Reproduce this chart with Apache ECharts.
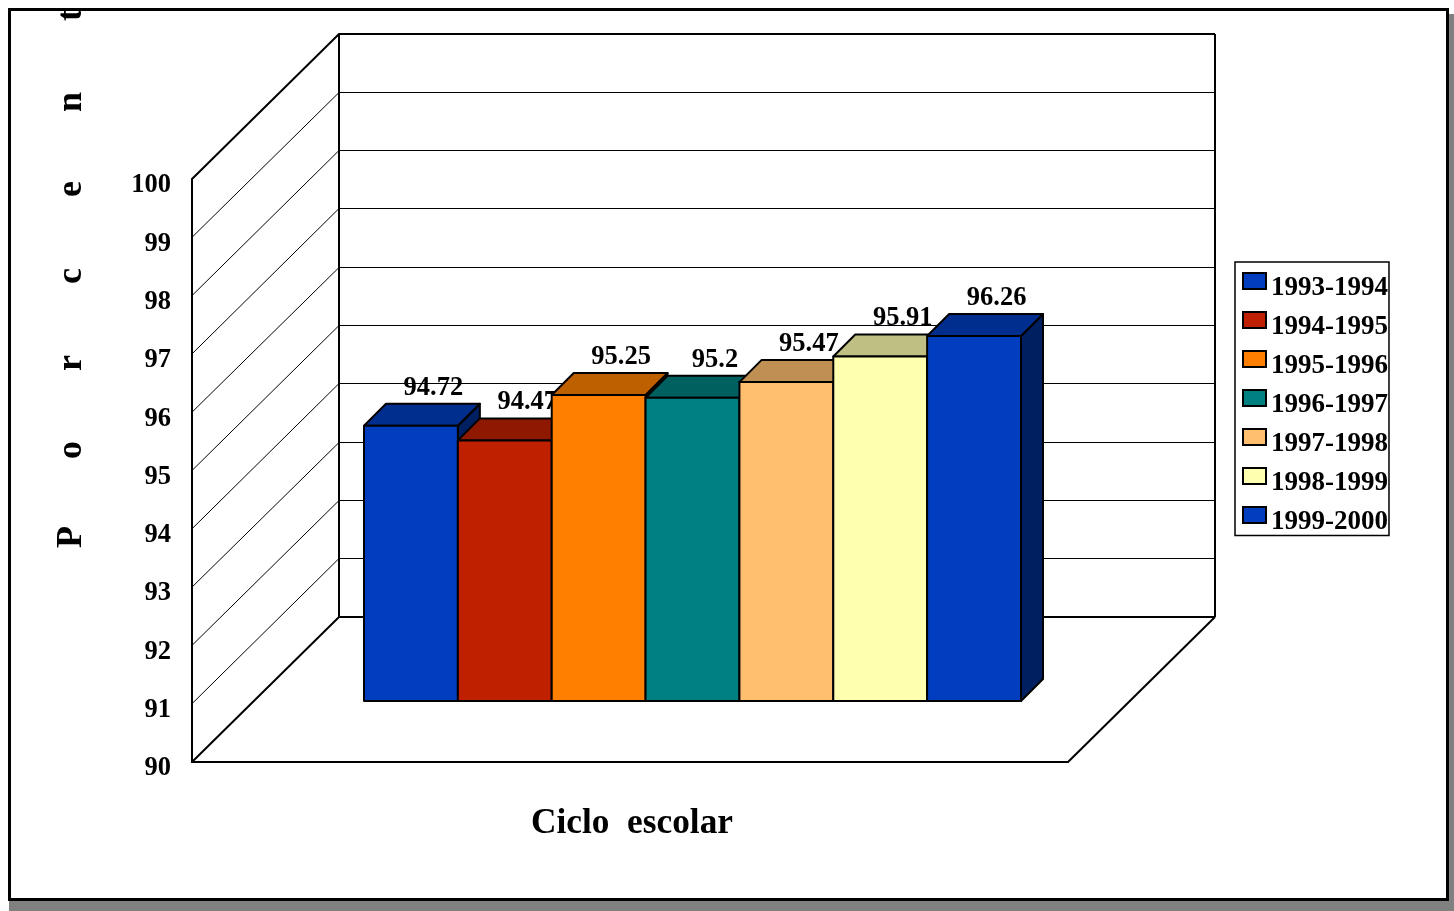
<!DOCTYPE html>
<html><head><meta charset="utf-8">
<style>html,body{margin:0;padding:0;background:#fff}#c{width:1454px;height:911px}</style>
<script src="https://cdn.jsdelivr.net/npm/echarts@6/dist/echarts.min.js"></script></head>
<body><div id="c"></div>
<script>
const cycles = ['1993-1994','1994-1995','1995-1996','1996-1997','1997-1998','1998-1999','1999-2000'];
const values = [94.72,94.47,95.25,95.2,95.47,95.91,96.26];
const faceColors = ['#003DBF','#BF2000','#FF8000','#008080','#FFBF6F','#FFFFB0','#003DBF'];
const topColors  = ['#002E8F','#8F1800','#BF6000','#006060','#BF8F53','#BFBF84','#002E8F'];
const sideColors = ['#001F60','#601000','#804000','#004040','#806038','#808058','#001F60'];
const yTicks = [90,91,92,93,94,95,96,97,98,99,100];
const category = ['Ciclo  escolar'];
const axisLetters = ['P','o','r','c','e','n','t'];

const FONT = '"Liberation Serif","Times New Roman",serif';
const WALL_X = 147, WALL_Y = 145;
const OFF_X = 62.5, OFF_Y = 61;
const DEPTH = 22;
const GROUP = 0.75;

function wallItem(params, api) {
  const v = api.value(0);
  const p = api.coord([0, v]);
  const band = api.size([1, 0])[0];
  const x0 = p[0] - band / 2, y = p[1];
  const heavy = v === 90 || v === 100;
  const w = heavy ? 2 : 1;
  const yb = heavy ? y - WALL_Y : Math.floor(y - WALL_Y) + 0.5;
  const children = [
    {type:'polyline', shape:{points:[[x0,y],[x0+WALL_X,yb],[x0+band+WALL_X,yb]]},
     style:{fill:'none',stroke:'#000',lineWidth:w}, silent:true}
  ];
  if (v === 90) {
    children.push({type:'line', shape:{x1:x0+band,y1:y,x2:x0+band+WALL_X,y2:y-WALL_Y},
      style:{stroke:'#000',lineWidth:2}, silent:true});
  }
  if (v === 100) {
    const y90 = api.coord([0, 90])[1];
    children.push({type:'line', shape:{x1:x0+WALL_X,y1:y-WALL_Y,x2:x0+WALL_X,y2:y90-WALL_Y},
      style:{stroke:'#000',lineWidth:2}, silent:true});
    children.push({type:'line', shape:{x1:x0+band+WALL_X,y1:y-WALL_Y,x2:x0+band+WALL_X,y2:y90-WALL_Y},
      style:{stroke:'#000',lineWidth:2}, silent:true});
  }
  return {type:'group', children};
}

function barItem(i) {
  return function (params, api) {
    const band = api.size([1, 0])[0];
    const w = band * GROUP / cycles.length;
    const top = api.coord([0, api.value(1)]);
    const base = api.coord([0, 90]);
    const x0 = top[0] - band * GROUP / 2 + i * w + OFF_X;
    const x1 = x0 + w;
    const yT = top[1] - OFF_Y, yB = base[1] - OFF_Y;
    const stroke = {stroke:'#000', lineWidth:2, lineJoin:'round'};
    return {type:'group', children:[
      {type:'polygon', shape:{points:[[x1,yB],[x1+DEPTH,yB-DEPTH],[x1+DEPTH,yT-DEPTH],[x1,yT]]},
       style:Object.assign({fill:sideColors[i]},stroke)},
      {type:'text', style:{text:String(api.value(1)), x:(x0+x1)/2+DEPTH+0.5, y:yT-DEPTH-16,
        align:'center', verticalAlign:'middle', fill:'#000', font:'bold 26.5px '+FONT}},
      {type:'polygon', shape:{points:[[x0,yT],[x0+DEPTH,yT-DEPTH],[x1+DEPTH,yT-DEPTH],[x1,yT]]},
       style:Object.assign({fill:topColors[i]},stroke)},
      {type:'rect', shape:{x:x0,y:yT,width:w,height:yB-yT},
       style:Object.assign({fill:faceColors[i]},stroke)}
    ]};
  };
}

const chart = echarts.init(document.getElementById('c'), null, {renderer:'canvas'});
chart.setOption({
  animation:false,
  backgroundColor:'#fff',
  grid:{left:192, top:179, width:876, height:583, containLabel:false},
  xAxis:{type:'category', data:category, boundaryGap:true,
    name:category[0], nameLocation:'middle', nameGap:44,
    nameTextStyle:{fontFamily:FONT, fontWeight:'bold', fontSize:35.3, color:'#000', padding:[0,0,0,4]},
    axisLabel:{show:false}, axisTick:{show:false}, splitLine:{show:false},
    axisLine:{show:true, lineStyle:{color:'#000', width:2}}},
  yAxis:{type:'value', min:90, max:100, interval:1,
    axisLine:{show:true, lineStyle:{color:'#000', width:2}},
    axisTick:{show:false}, splitLine:{show:false},
    axisLabel:{margin:21, formatter:'{t|{value}}',
      rich:{t:{color:'#000', fontFamily:FONT, fontWeight:'bold', fontSize:26.5, padding:[13,0,0,0]}}}},
  legend:{show:true, orient:'vertical', left:1235, top:262,
    data:cycles, selectedMode:false, padding:[10,1,0,7], itemGap:9.5,
    backgroundColor:'#fff', borderColor:'#000', borderWidth:1.5,
    itemWidth:23, itemHeight:16, itemStyle:{borderColor:'#000',borderWidth:2},
    icon:'rect', formatter:'{t|{name}}',
    textStyle:{rich:{t:{fontFamily:FONT, fontWeight:'bold', fontSize:27, color:'#000',
      padding:[14,0,0,0]}}}},
  graphic:{elements:[
    {type:'rect', z:-20, silent:true, shape:{x:9,y:14,width:1445,height:897}, style:{fill:'#808080'}},
    {type:'rect', z:-19, silent:true, shape:{x:9.5,y:9.5,width:1438,height:890},
     style:{fill:'#fff',stroke:'#000',lineWidth:3}}
  ].concat(axisLetters.map((ch,k)=>({
    type:'text', silent:true, rotation:Math.PI/2, x:72, y:537-k*87,
    style:{text:ch, align:'center', verticalAlign:'middle', fill:'#000', font:'bold 36px '+FONT}
  })))},
  series:[
    {type:'custom', name:'walls', z:1, silent:true, clip:false, renderItem:wallItem,
     encode:{y:0}, data:yTicks.map(t=>[t])}
  ].concat(cycles.map((name,i)=>({
    type:'custom', name, z:3+i, silent:true, clip:false,
    itemStyle:{color:faceColors[i]},
    renderItem:barItem(i), encode:{x:0,y:1},
    data:[[0,values[i]]]
  })))
});
</script></body></html>
